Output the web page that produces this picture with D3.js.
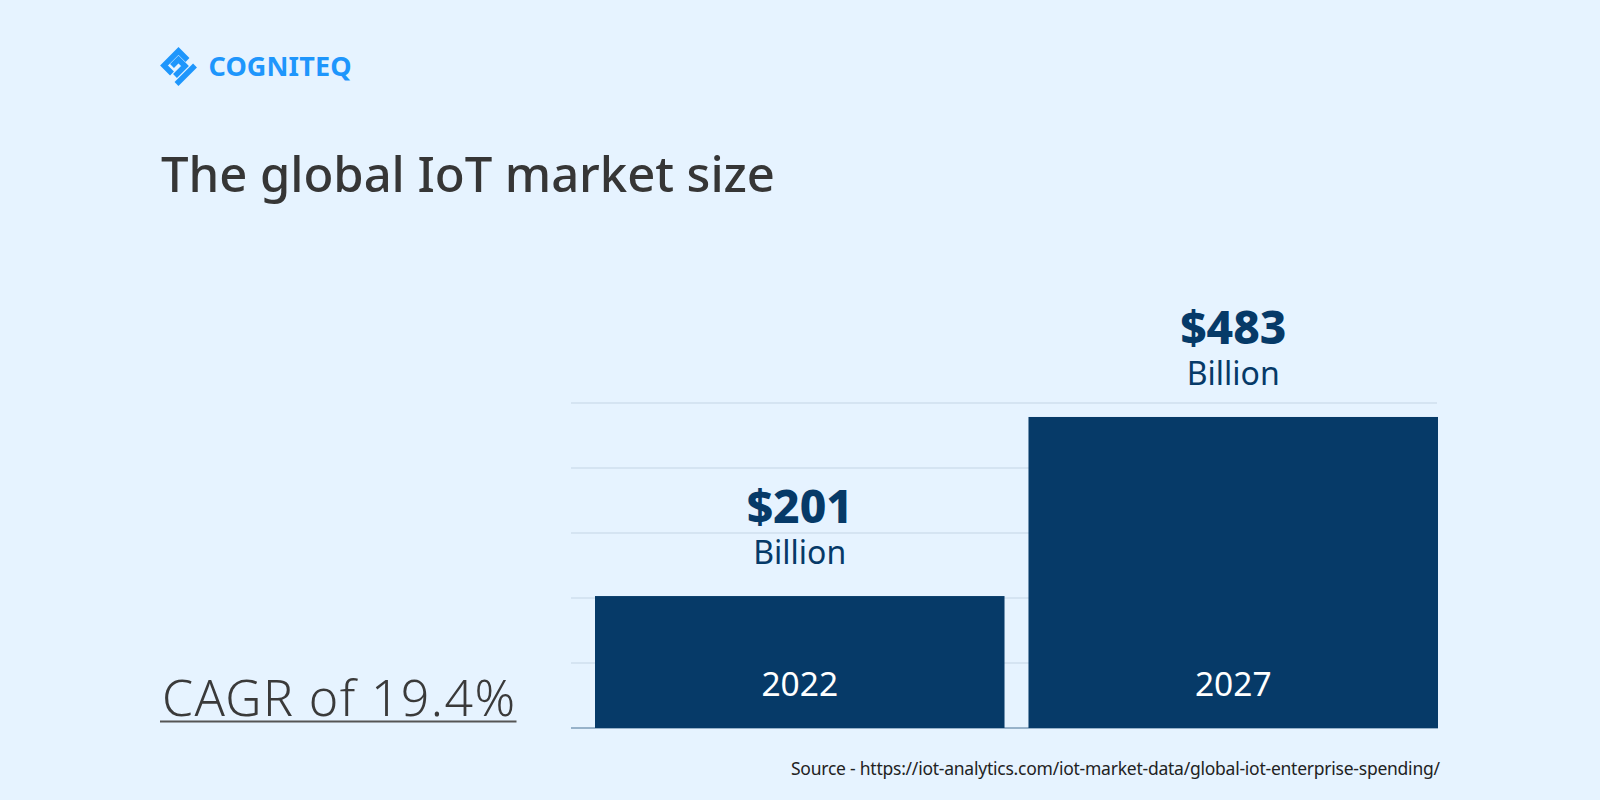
<!DOCTYPE html>
<html>
<head>
<meta charset="utf-8">
<script src="https://cdn.jsdelivr.net/npm/d3@7"></script>
<style>
  html, body { margin: 0; padding: 0; background: #e6f3ff; }
  svg { display: block; }
  text { font-family: "Noto Sans", Lato, sans-serif; }
</style>
</head>
<body>
<script>
// chart data
var years = ["2022", "2027"];
var barValues = [203, 478.5];
var valueLabels = ["$201", "$483"];
var unitLabels = ["Billion", "Billion"];
var gridTicks = [100, 200, 300, 400, 500];

var width = 1600,
    height = 800;

var svg = d3.select("body").append("svg")
    .attr("width", width)
    .attr("height", height);

svg.append("rect").attr("width", width).attr("height", height).attr("fill", "#e6f3ff");

var x = d3.scaleBand().domain(years).range([595, 1438]).paddingInner(0.0553).paddingOuter(0);
var y = d3.scaleLinear().domain([0, 500]).range([728, 403]);

// gridlines
svg.selectAll(".grid").data(gridTicks).enter().append("line")
    .attr("class", "grid")
    .attr("x1", 571).attr("x2", 1437)
    .attr("y1", function(d) { return y(d); })
    .attr("y2", function(d) { return y(d); })
    .attr("stroke", "#cfdfee").attr("stroke-width", 1.6);

// baseline
svg.append("line")
    .attr("x1", 571).attr("x2", 1438)
    .attr("y1", y(0)).attr("y2", y(0))
    .attr("stroke", "#7c9cb9").attr("stroke-width", 1.5);

// bars
svg.selectAll(".bar").data(barValues).enter().append("rect")
    .attr("class", "bar")
    .attr("x", function(d, i) { return x(years[i]); })
    .attr("width", x.bandwidth())
    .attr("y", function(d) { return y(d); })
    .attr("height", function(d) { return y(0) - y(d); })
    .attr("fill", "#063a68");

function center(i) { return x(years[i]) + x.bandwidth() / 2; }

svg.selectAll(".year").data(years).enter().append("text")
    .attr("x", function(d, i) { return center(i); })
    .attr("y", 696)
    .attr("text-anchor", "middle")
    .attr("font-size", 33.5)
    .attr("fill", "#fff")
    .text(function(d) { return d; });

svg.selectAll(".value").data(valueLabels).enter().append("text")
    .attr("x", function(d, i) { return center(i); })
    .attr("y", function(d, i) { return y(barValues[i]) - 73; })
    .attr("text-anchor", "middle")
    .attr("font-size", 46)
    .attr("font-weight", 800)
    .attr("fill", "#063a68")
    .text(function(d) { return d; });

svg.selectAll(".unit").data(unitLabels).enter().append("text")
    .attr("x", function(d, i) { return center(i); })
    .attr("y", function(d, i) { return y(barValues[i]) - 32; })
    .attr("text-anchor", "middle")
    .attr("font-size", 32)
    .attr("fill", "#063a68")
    .text(function(d) { return d; });

// title
svg.append("text").attr("x", 161).attr("y", 192)
    .attr("font-size", 49).attr("font-weight", 500).attr("fill", "#363636")
    .attr("textLength", 614).attr("lengthAdjust", "spacing")
    .text("The global IoT market size");

// CAGR note
svg.append("text").attr("x", 162).attr("y", 716)
    .attr("font-size", 50).attr("font-weight", 300).attr("fill", "#3a3a3a")
    .attr("textLength", 353).attr("lengthAdjust", "spacing")
    .text("CAGR of 19.4%");
svg.append("line").attr("x1", 160).attr("x2", 516.5).attr("y1", 721.5).attr("y2", 721.5)
    .attr("stroke", "#555555").attr("stroke-width", 2);

// source
svg.append("text").attr("x", 791).attr("y", 775)
    .attr("font-size", 17.5).attr("fill", "#222222")
    .attr("textLength", 649).attr("lengthAdjust", "spacing")
    .text("Source - https://iot-analytics.com/iot-market-data/global-iot-enterprise-spending/");

// logo
svg.append("g").attr("fill", "none").attr("stroke", "#1e96fc").attr("stroke-width", 5.5)
  .selectAll("path")
  .data([
    "M187.5 60L178.5 51L164 65.5L172 73.5",
    "M172 66L178.5 59.5L185 66L175 76",
    "M195 65.5L176.5 84"
  ])
  .enter().append("path")
    .attr("d", function(d) { return d; });
svg.append("text").attr("x", 208.5).attr("y", 76)
    .attr("font-size", 27).attr("font-weight", 700).attr("fill", "#1e96fc")
    .attr("textLength", 143).attr("lengthAdjust", "spacing")
    .text("COGNITEQ");
</script>
</body>
</html>
